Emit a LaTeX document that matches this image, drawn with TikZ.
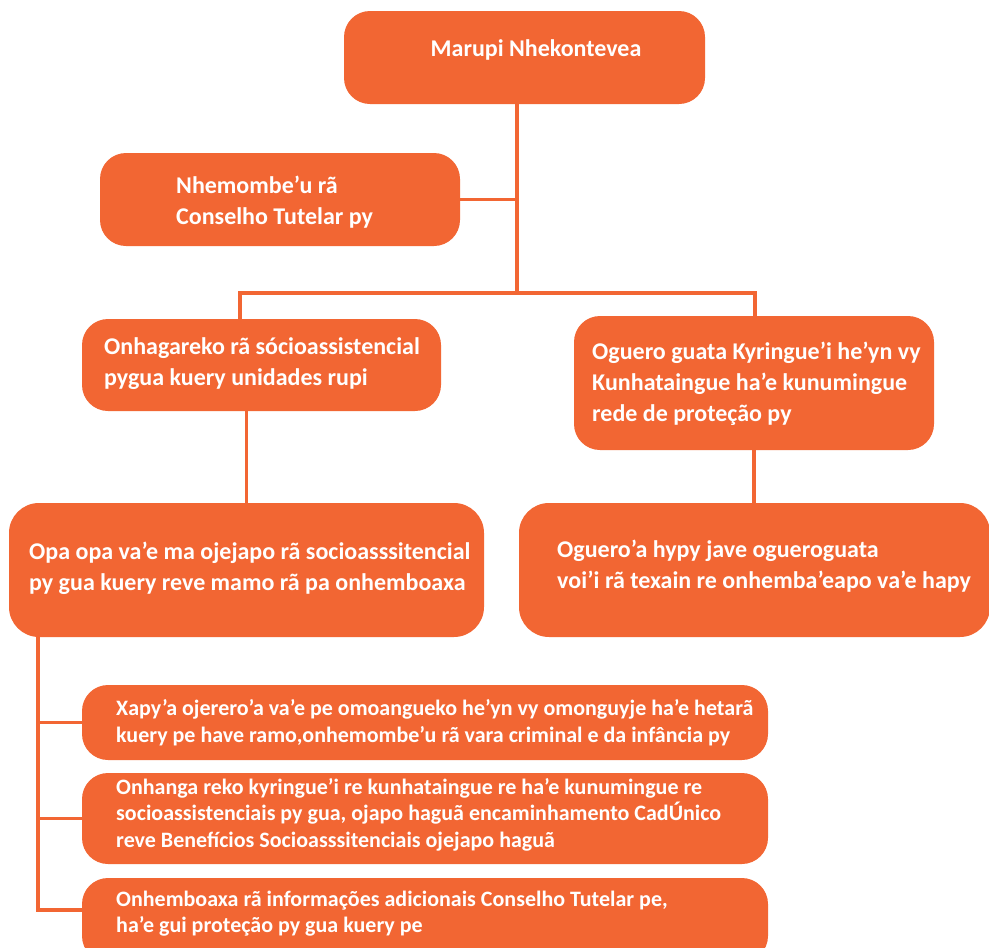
\documentclass[tikz,border=0pt]{standalone}
\usepackage{fontspec}
\setmainfont{Carlito}
\definecolor{laranja}{HTML}{F26633}

\begin{document}
\begin{tikzpicture}[x=1pt,y=-1pt]
\tikzstyle{every node}+=[inner sep=0pt]
\tikzstyle{box}=[fill=laranja, rounded corners=26pt]
\tikzstyle{txt}=[text=white, font=\bfseries\fontsize{24}{31}\selectfont, align=left, anchor=west]
\tikzstyle{small}=[text=white, font=\bfseries\fontsize{22}{26.5}\selectfont, align=left, anchor=west]
\tikzstyle{link}=[draw=laranja, line width=3.5pt]
\useasboundingbox (0,0) rectangle (989,948);
\clip (0,0) rectangle (989,948);
\coordinate (hub) at (517,293);
\coordinate (barL) at (240,293);
\coordinate (barR) at (755,293);
\coordinate (spine) at (38,632);
\coordinate (stubI) at (82,910);
% caixas
\node [box, minimum width=361pt, minimum height=93pt] (marupi) at (524.5,57.5) {};
\node [box, minimum width=360pt, minimum height=93pt] (nhemombe) at (280,199.5) {};
\node [box, minimum width=359pt, minimum height=92pt] (onhagareko) at (261.5,365) {};
\node [box, minimum width=360pt, minimum height=134pt] (oguero) at (754,383) {};
\node [box, minimum width=475pt, minimum height=134pt, rounded corners=30pt] (opa) at (246.5,570) {};
\node [box, minimum width=471pt, minimum height=134pt, rounded corners=30pt] (hypy) at (754.5,570) {};
\node [box, minimum width=686pt, minimum height=75pt] (xapy) at (425,722.5) {};
\node [box, minimum width=686pt, minimum height=91pt] (onhanga) at (425,818.5) {};
\node [box, minimum width=686pt, minimum height=84pt] (info) at (425,920) {};
% ligacoes
\draw [link] (marupi.south -| hub) -- (hub);
\draw [link] (nhemombe.east) -- (nhemombe.east -| hub);
\draw [link] (onhagareko.north -| barL) -- (barL) -- (barR) -- (oguero.north -| barR);
\draw [link] (onhagareko.south -| opa.north) -- (opa.north);
\draw [link] (oguero.south) -- (hypy.north -| oguero.south);
\draw [link] (spine) |- (xapy.west);
\draw [link] (spine) |- (onhanga.west);
\draw [link] (spine) |- (stubI);
% textos
\node [txt, anchor=center] (t-marupi) at (536,50) {Marupi Nhekontevea};
\node [txt] (t-nhemombe) at (176,202.5) {Nhemombe’u rã\\Conselho Tutelar py};
\node [txt] (t-onhagareko) at (104,363.5) {Onhagareko rã sócioassistencial\\pygua kuery unidades rupi};
\node [txt] (t-oguero) at (592,384) {Oguero guata Kyringue’i he’yn vy\\Kunhataingue ha’e kunumingue\\rede de proteção py};
\node [txt] (t-opa) at (29,568.5) {Opa opa va’e ma ojejapo rã socioasssitencial\\py gua kuery reve mamo rã pa onhemboaxa};
\node [txt] (t-hypy) at (557,566) {Oguero’a hypy jave ogueroguata\\voi’i rã texain re onhemba’eapo va’e hapy};
\node [small] (t-xapy) at (116,722.5) {Xapy’a ojerero’a va’e pe omoangueko he’yn vy omonguyje ha’e hetarã\\kuery pe have ramo,onhemombe’u rã vara criminal e da infância py};
\node [small] (t-onhanga) at (116,814.5) {Onhanga reko kyringue’i re kunhataingue re ha’e kunumingue re\\socioassistenciais py gua, ojapo haguã encaminhamento CadÚnico\\reve Benefícios Socioasssitenciais ojejapo haguã};
\node [small] (t-info) at (116,913.5) {Onhemboaxa rã informações adicionais Conselho Tutelar pe,\\ha’e gui proteção py gua kuery pe};
\end{tikzpicture}
\end{document}
